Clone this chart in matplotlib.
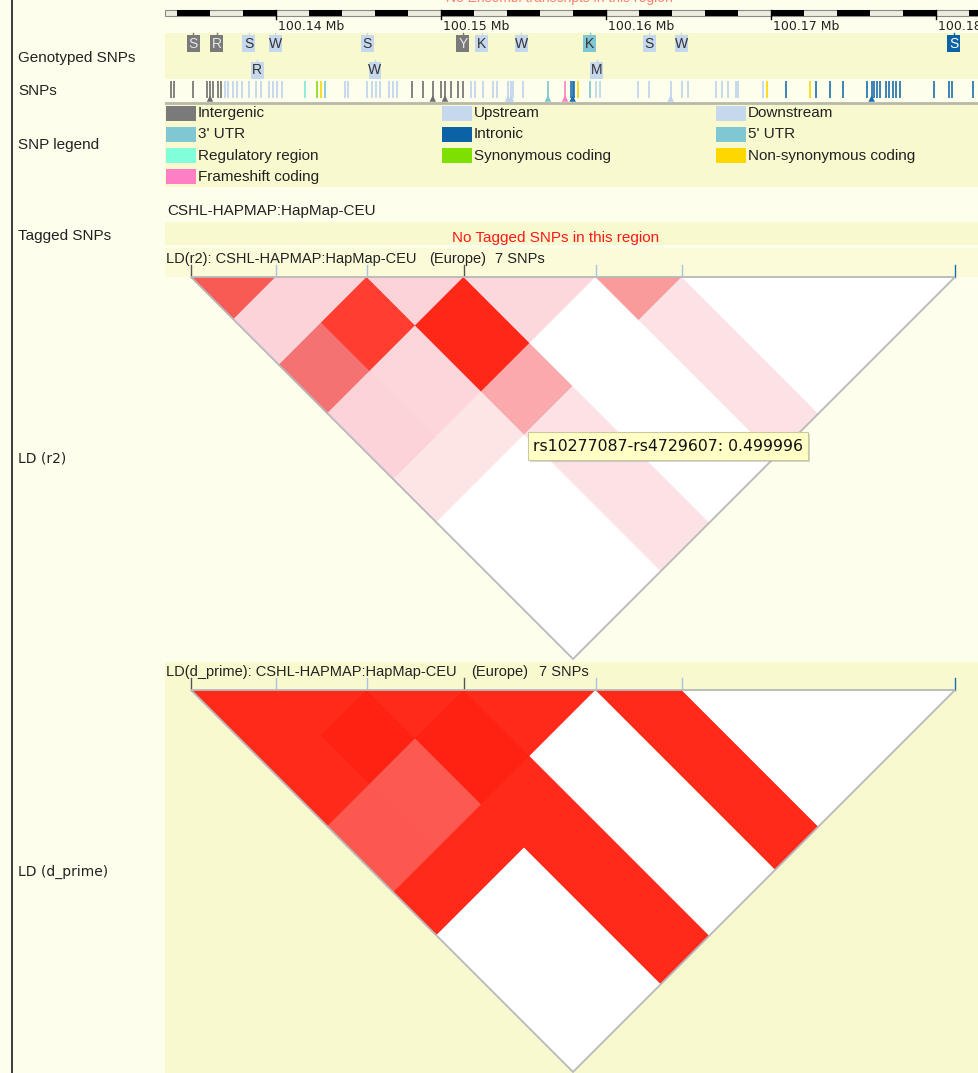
import matplotlib
matplotlib.use("Agg")
import numpy as np
import matplotlib.pyplot as plt
from matplotlib.patches import Rectangle, Polygon
from matplotlib.colors import LinearSegmentedColormap

plt.rcParams["font.family"] = ["Liberation Sans", "DejaVu Sans"]

# ------------------------------------------------------------------ data
ruler_ticks_mb = [100.14, 100.15, 100.16, 100.17, 100.18]
ruler_labels = ["100.14 Mb", "100.15 Mb", "100.16 Mb", "100.17 Mb", "100.18 Mb"]

consequence_classes = ["intergenic", "upstream", "downstream",
                       "utr3", "intronic", "utr5",
                       "regulatory", "synonymous", "nonsynonymous",
                       "frameshift"]
legend_labels = ["Intergenic", "Upstream", "Downstream",
                 "3' UTR", "Intronic", "5' UTR",
                 "Regulatory region", "Synonymous coding", "Non-synonymous coding",
                 "Frameshift coding"]
class_colours = {
    "intergenic": "#7a7a7a", "upstream": "#c5d8ee", "downstream": "#c5d8ee",
    "utr3": "#7fc7d3", "intronic": "#0b62a4", "utr5": "#7fc7d3",
    "regulatory": "#80ffda", "synonymous": "#7ee000",
    "nonsynonymous": "#ffd700", "frameshift": "#ff7fc4",
}
line_colours = {
    "intergenic": "#6e6e6e", "upstream": "#bcd2ee", "downstream": "#bcd2ee",
    "utr3": "#78c6d0", "intronic": "#1a6eac", "utr5": "#78c6d0",
    "regulatory": "#7fe8d4", "synonymous": "#8ad818",
    "nonsynonymous": "#ffd400", "frameshift": "#ff80c0",
}

# genotyped SNPs: position (Mb), IUPAC allele code, consequence, display row
genotyped_pos = [100.13497, 100.13642, 100.13836, 100.13994, 100.14552,
                 100.15133, 100.15248, 100.15485, 100.15903, 100.16261,
                 100.16455, 100.18109, 100.13885, 100.14600, 100.15945]
genotyped_allele = ["S", "R", "S", "W", "S", "Y", "K", "W", "K", "S", "W", "S",
                    "R", "W", "M"]
genotyped_class = ["intergenic", "intergenic", "upstream", "upstream", "upstream",
                   "intergenic", "upstream", "upstream", "utr3", "upstream",
                   "upstream", "intronic", "upstream", "upstream", "upstream"]
genotyped_row = [0, 0, 0, 0, 0, 0, 0, 0, 0, 0, 0, 0, 1, 1, 1]

# all SNPs in the region, grouped by consequence (Mb)
snp_track = {
    "intergenic": [100.13362, 100.13382, 100.13495, 100.13582, 100.13600,
                   100.13618, 100.13647, 100.13667, 100.14822, 100.14891,
                   100.14950, 100.14998, 100.15024, 100.15061, 100.15103,
                   100.15133],
    "upstream": [100.13691, 100.13709, 100.13738, 100.13764, 100.13792,
                 100.13836, 100.13879, 100.13907, 100.13958, 100.13980,
                 100.14004, 100.14035, 100.14418, 100.14436, 100.14550,
                 100.14580, 100.14606, 100.14630, 100.14685, 100.14707,
                 100.14733, 100.15180, 100.15206, 100.15255, 100.15315,
                 100.15339, 100.15406, 100.15424, 100.15436, 100.15497,
                 100.15939, 100.15964, 100.16194, 100.16261, 100.16392,
                 100.16459, 100.16499, 100.16665, 100.16701, 100.16741,
                 100.16788, 100.16802, 100.16950],
    "regulatory": [100.14176],
    "synonymous": [100.14250],
    "nonsynonymous": [100.14271, 100.15828, 100.16974, 100.17236],
    "utr3": [100.14297, 100.15648, 100.15903],
    "frameshift": [100.15752],
    "intronic": [100.15788, 100.15798, 100.15808, 100.17091, 100.17273,
                 100.17358, 100.17438, 100.17580, 100.17610, 100.17624,
                 100.17644, 100.17661, 100.17697, 100.17717, 100.17738,
                 100.17758, 100.17782, 100.17990, 100.18081, 100.18099,
                 100.18226],
}
# SNPs carrying an extra flag marker
flagged_pos = [100.13600, 100.14950, 100.15024, 100.15406, 100.15424,
               100.15648, 100.15752, 100.15798, 100.16392, 100.17610]
flagged_class = ["intergenic", "intergenic", "intergenic", "upstream", "upstream",
                 "utr3", "frameshift", "intronic", "upstream", "intronic"]

# the 7 SNPs used for LD
ld_snp_pos = [100.13485, 100.14000, 100.14552, 100.15139, 100.15939,
              100.16461, 100.18115]
ld_snp_class = ["intergenic", "upstream", "upstream", "intergenic", "upstream",
                "upstream", "intronic"]
# row a holds the values of SNP a against SNPs a+1 ... 6
r2_rows = [
    [0.75, 0.20, 0.60, 0.20, 0.10, 0.00],
    [0.20, 0.90, 0.18, 0.10, 0.00],
    [0.20, 0.97, 0.499996, 0.11],
    [0.17, 0.00, 0.00],
    [0.56, 0.11],
    [0.00],
]
dprime_rows = [
    [0.95, 0.95, 0.95, 0.80, 0.95, 0.00],
    [0.95, 1.00, 0.78, 0.95, 0.00],
    [0.95, 1.00, 0.95, 0.95],
    [0.95, 0.00, 0.00],
    [0.95, 0.95],
    [0.00],
]
tooltip_ids = ("rs10277087", "rs4729607")
tooltip_pair = (2, 5)

population = "CSHL-HAPMAP:HapMap-CEU"

ld_cmap = LinearSegmentedColormap.from_list("ld", [
    (0.00, "#ffffff"), (0.10, "#fde4e6"), (0.20, "#fcd3d8"),
    (0.50, "#faa9ac"), (0.56, "#f99c9c"), (0.60, "#f47272"),
    (0.75, "#f75b53"), (0.80, "#fd5850"), (0.90, "#ff3e31"),
    (0.95, "#ff2b1b"), (1.00, "#ff2212")])

# ------------------------------------------------------------------ layout
W, H = 979, 1073
PX_PER_MB = 16500.0
REF_MB, REF_PX = 100.14, 276.0
TRACK_X0, TRACK_X1 = 165, 979
mb_lo = REF_MB + (TRACK_X0 - REF_PX) / PX_PER_MB
mb_hi = REF_MB + (TRACK_X1 - REF_PX) / PX_PER_MB

CREAM = "#fefeec"
YELLOW = "#f9f9d0"
PALE_YELLOW = "#fbfbda"

fig = plt.figure(figsize=(W / 100, H / 100), dpi=100)
fig.patch.set_facecolor(CREAM)


def px_axes(x0, y0, x1, y1, xlim, ylim, z=1):
    ax = fig.add_axes([x0 / W, 1 - y1 / H, (x1 - x0) / W, (y1 - y0) / H])
    ax.set_xlim(*xlim)
    ax.set_ylim(*ylim)
    ax.axis("off")
    ax.patch.set_alpha(0)
    ax.set_zorder(z)
    return ax


bg = px_axes(0, 0, W, H, (0, W), (H, 0), z=0)
trk = px_axes(TRACK_X0, 0, TRACK_X1, H, (mb_lo, mb_hi), (H, 0), z=2)
top = px_axes(0, 0, W, H, (0, W), (H, 0), z=10)

# row backgrounds
for y0, y1, col in [(0, 33, CREAM), (33, 79, YELLOW), (79, 104, CREAM),
                    (104, 187, YELLOW), (187, 222, CREAM), (222, 245, YELLOW),
                    (245, 248, CREAM), (248, 277, PALE_YELLOW),
                    (277, 662, CREAM), (662, H, YELLOW)]:
    bg.add_patch(Rectangle((TRACK_X0, y0), TRACK_X1 - TRACK_X0, y1 - y0,
                           facecolor=col, edgecolor="none"))
bg.plot([12, 12], [0, H], color="#3a3a3a", lw=1.4, solid_capstyle="butt")

# left-hand track names
for txt, y in [("Genotyped SNPs", 58), ("SNPs", 91), ("SNP legend", 145),
               ("Tagged SNPs", 236)]:
    bg.text(18, y, txt, fontsize=11, color="#222222", va="center", ha="left")
for txt, y in [("LD (r2)", 459), ("LD (d_prime)", 872)]:
    bg.text(18, y, txt, fontsize=10, family="DejaVu Sans", color="#222222",
            va="center", ha="left")

# message of the track above, mostly scrolled out of view
bg.text(559, -2, "No Ensembl transcripts in this region", fontsize=10,
        color="#ff8070", ha="center", va="center")

# ------------------------------------------------------------------ ruler
trk.add_patch(Rectangle((mb_lo, 10), mb_hi - mb_lo, 6, facecolor="#ececdf",
                        edgecolor="#8a8a8a", lw=0.8))
for start in np.arange(100.134, mb_hi, 0.004):
    trk.add_patch(Rectangle((start, 10), 0.002, 6, facecolor="black",
                            edgecolor="none"))
for pos, lab in zip(ruler_ticks_mb, ruler_labels):
    trk.plot([pos, pos], [10, 19], color="black", lw=1)
    trk.text(pos + 2 / PX_PER_MB, 27, lab, fontsize=9, family="DejaVu Sans",
             color="#222222", ha="left", va="center", clip_on=True)

# ------------------------------------------------------------------ genotyped SNPs
box_w = 13 / PX_PER_MB
for pos, al, cls, row in zip(genotyped_pos, genotyped_allele, genotyped_class,
                             genotyped_row):
    yc = 43 if row == 0 else 70
    face = class_colours[cls]
    trk.add_patch(Rectangle((pos - box_w / 2, yc - 8.5), box_w, 17,
                            facecolor=face, edgecolor="none"))
    trk.plot([pos, pos], [yc - 10.5, yc - 8.5], color=face, lw=1)
    tcol = {"intergenic": "#e6e6e6", "intronic": "white"}.get(cls, "#333333")
    trk.text(pos, yc + 0.5, al, fontsize=10, color=tcol, ha="center",
             va="center")

# ------------------------------------------------------------------ SNP track
for cls, positions in snp_track.items():
    trk.vlines(positions, 81, 98, colors=line_colours[cls], lw=1.2)
trk.scatter(flagged_pos, [98.5] * len(flagged_pos), marker="^", s=22,
            c=[line_colours[c] for c in flagged_class], linewidths=0, zorder=3)
trk.plot([mb_lo, mb_hi], [102.5, 102.5], color="#b9b9a8", lw=2)

# ------------------------------------------------------------------ legend
col_x = [166, 442, 716]
for idx, (lab, cls) in enumerate(zip(legend_labels, consequence_classes)):
    cx = col_x[idx % 3]
    cy = 113 + (idx // 3) * 21.3
    bg.add_patch(Rectangle((cx, cy - 7.5), 30, 15, facecolor=class_colours[cls],
                           edgecolor="none"))
    bg.text(cx + 32, cy, lab, fontsize=11, color="#222222", va="center")

# ------------------------------------------------------------------ tagged SNPs
bg.text(167, 211, population, fontsize=11, color="#222222", va="center")
bg.text(556, 238, "No Tagged SNPs in this region", fontsize=11,
        color="#ff1a1a", ha="center", va="center")


# ------------------------------------------------------------------ LD plots
def draw_ld(y_top, y_bottom, rows, header_prefix, header_x):
    ax = px_axes(TRACK_X0, y_top, TRACK_X1, y_bottom, (mb_lo, mb_hi),
                 ((y_bottom - y_top) / PX_PER_MB, 0), z=3)
    p = ld_snp_pos
    for a, row in enumerate(rows):
        for k, val in enumerate(row):
            i, j = a, a + k          # interval indices of the pair (a, a+1+k)
            if i == j:
                uv = [(p[i], p[i]), (p[i + 1], p[i + 1]), (p[i], p[i + 1])]
            else:
                uv = [(p[i + 1], p[j]), (p[i + 1], p[j + 1]),
                      (p[i], p[j + 1]), (p[i], p[j])]
            verts = [((u + v) / 2, (v - u) / 2) for u, v in uv]
            col = ld_cmap(val)
            ax.add_patch(Polygon(verts, closed=True, facecolor=col,
                                 edgecolor=col, lw=0.6))
    outline = [(p[0], 0), (p[-1], 0), ((p[0] + p[-1]) / 2, (p[-1] - p[0]) / 2)]
    ax.add_patch(Polygon(outline, closed=True, fill=False, edgecolor="#b8b8b8",
                         lw=1.3, joinstyle="miter", clip_on=False))
    # SNP ticks on top of the triangle
    for pos, cls in zip(p, ld_snp_class):
        tcol = {"intergenic": "#555555", "intronic": "#1a6eac"}.get(cls, "#a9c3e2")
        trk.plot([pos, pos], [y_top - 12, y_top], color=tcol, lw=1)
    # header
    hy = y_top - 18
    bg.text(header_x[0], hy, f"{header_prefix}: {population}", fontsize=10.5,
            color="#222222", va="center")
    bg.text(header_x[1], hy, "(Europe)", fontsize=10.5, color="#222222",
            va="center")
    bg.text(header_x[2], hy, f"{len(p)} SNPs", fontsize=10.5, color="#222222",
            va="center")
    return ax


draw_ld(277, 662, r2_rows, "LD(r2)", (166, 429, 495))
draw_ld(690, H, dprime_rows, "LD(d_prime)", (166, 471, 539))

# hover label for one r2 cell
a, b = tooltip_pair
tip_val = r2_rows[a][b - a - 1]
top.add_patch(Rectangle((530, 434), 280, 28, facecolor="#8a8a8a", alpha=0.35,
                        edgecolor="none"))
top.add_patch(Rectangle((528, 432), 280, 28, facecolor="#ffffc6",
                        edgecolor="#c9c9a0", lw=0.8))
top.text(533, 446.5, f"{tooltip_ids[0]}-{tooltip_ids[1]}: {tip_val:g}",
         fontsize=11.3, family="DejaVu Sans", color="#111111", va="center")

fig.savefig("out.png", dpi=100, facecolor=fig.get_facecolor())
